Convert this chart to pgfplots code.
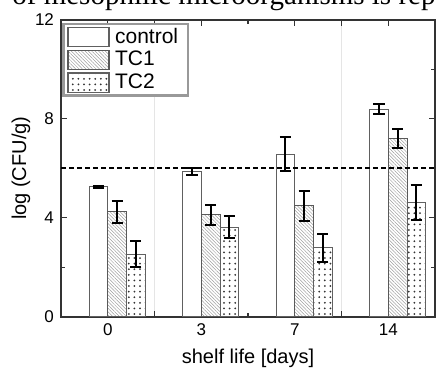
\documentclass[border=0pt]{standalone}
\usepackage{fontspec}
\setmainfont{Liberation Sans}
\newfontfamily\timesfont{Liberation Serif}
\usepackage{pgfplots}
\pgfplotsset{compat=1.18}
\usetikzlibrary{patterns.meta}

\begin{document}
\begin{tikzpicture}
\useasboundingbox (-30.5pt,-26.65pt) rectangle (188pt,158.35pt);
\clip (-30.5pt,-26.65pt) rectangle (188pt,158.35pt);
\node[anchor=base west, font=\fontsize{14.5}{16}\timesfont, inner sep=0pt] at (-24.5pt,156.3pt) {of mesophilic microorganisms is rep};
\begin{axis}[
  scale only axis,
  width=187pt, height=148.5pt,
  xmin=-0.5, xmax=3.5, ymin=0, ymax=12,
  xtick={0,1,2,3}, xticklabels={0,3,7,14},
  minor xtick={0.5,1.5,2.5},
  ytick={0,4,8,12}, minor ytick={2,6,10},
  extra x ticks={0.5,2.5}, extra x tick labels={},
  extra x tick style={grid=major, major grid style={gray!20, line width=0.5pt}},
  tick align=inside, xtick pos=both, ytick pos=both,
  major tick length=3pt, minor tick length=2pt,
  tick style={black!80, line width=0.6pt},
  axis line style={black!80, line width=0.8pt},
  ticklabel style={font=\fontsize{8.5}{10}\selectfont},
  /pgf/number format/assume math mode=true,
  xlabel={shelf life [days]}, ylabel={log (CFU/g)},
  label style={font=\fontsize{10}{12}\selectfont},
  xlabel style={at={(axis description cs:0.5,-0.141)}, anchor=center},
  ylabel style={at={(axis description cs:-0.107,0.5)}, anchor=center},
  legend image code/.code={\draw[#1, line width=0.6pt] (0pt,-4.8pt) rectangle (20.5pt,4.8pt);},
  legend style={at={(rel axis cs:0.003,0.99)}, anchor=north west, draw=gray!80, line width=1.2pt,
    fill=white, font=\fontsize{10.5}{12}\selectfont, inner xsep=2pt, inner ysep=1pt,
    row sep=0.5pt, nodes={inner xsep=2.8pt, inner ysep=1pt}},
  legend cell align=left,
]
\addplot[ybar, bar width=0.2, bar shift=0pt, draw=gray!75!black, fill=white,
  error bars/.cd, y dir=both, y explicit,
  error bar style={black, line width=1pt},
  error mark options={rotate=90, mark size=2.8pt, line width=1pt, black}]
  coordinates {(-0.1,5.25) +- (0,0.03) (0.9,5.86) +- (0,0.13) (1.9,6.57) +- (0,0.69) (2.9,8.39) +- (0,0.22)};
\addlegendentry{control\hspace{5pt}}
\addplot[ybar, bar width=0.2, bar shift=0pt, draw=gray!70!black,
  pattern={Lines[angle=-45, distance=1.2pt, line width=0.25pt]}, pattern color=gray!75,
  error bars/.cd, y dir=both, y explicit,
  error bar style={black, line width=1pt},
  error mark options={rotate=90, mark size=2.8pt, line width=1pt, black}]
  coordinates {(0.1,4.24) +- (0,0.45) (1.1,4.12) +- (0,0.41) (2.1,4.48) +- (0,0.60) (3.1,7.2) +- (0,0.39)};
\addlegendentry{TC1}
\addplot[ybar, bar width=0.2, bar shift=0pt, draw=gray!75!black,
  pattern={Dots[distance=2.8pt, radius=0.5pt]}, pattern color=black!80,
  error bars/.cd, y dir=both, y explicit,
  error bar style={black, line width=1pt},
  error mark options={rotate=90, mark size=2.8pt, line width=1pt, black}]
  coordinates {(0.3,2.53) +- (0,0.53) (1.3,3.62) +- (0,0.46) (2.3,2.79) +- (0,0.56) (3.3,4.61) +- (0,0.72)};
\addlegendentry{TC2}
\addplot[black, line width=1.1pt, dash pattern=on 2.5pt off 1.5pt, forget plot] coordinates {(-0.5,6) (3.5,6)};
\end{axis}
\end{tikzpicture}
\end{document}
